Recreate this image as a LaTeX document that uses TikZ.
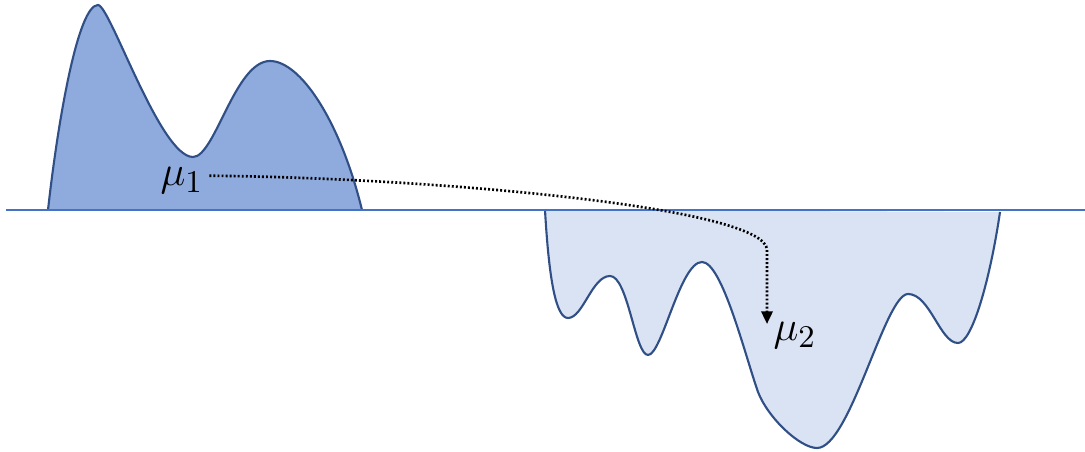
\documentclass[tikz,border=0pt]{standalone}
\usetikzlibrary{arrows.meta}
\definecolor{baseblue}{HTML}{4472C4}
\definecolor{edgeblue}{HTML}{2F4F86}
\definecolor{darkfill}{HTML}{8FAADC}
\definecolor{lightfill}{HTML}{DAE3F3}
\tikzset{
  hill/.style={draw=edgeblue, line width=0.6pt, line join=round},
  lbl/.style={font=\fontsize{12.5}{15}\selectfont, inner sep=0pt},
  flow/.style={line width=0.75pt, dash pattern=on 0.55pt off 0.6pt, -{Triangle[width=3.2pt,length=3.6pt]}}
}
\def\lefthill{(48,210) .. controls (58,120) and (78,5) .. (98,5)
  .. controls (110,5) and (160,157) .. (193,157)
  .. controls (215,157) and (235,61) .. (270,61)
  .. controls (300,61) and (340,120) .. (362,210)}
\def\righthill{(545,210) .. controls (549,280) and (556,318) .. (568,318)
  .. controls (583,318) and (592,276) .. (610,276)
  .. controls (628,276) and (635,355) .. (648,355)
  .. controls (662,355) and (680,262) .. (702,262)
  .. controls (722,262) and (745,355) .. (758,392)
  .. controls (768,418) and (800,448) .. (817,448)
  .. controls (850,448) and (885,294) .. (908,294)
  .. controls (930,294) and (940,343) .. (958,343)
  .. controls (972,343) and (990,280) .. (1000,212)}
\begin{document}
\begin{tikzpicture}[x=0.01cm,y=-0.01cm]
\useasboundingbox (0,0) rectangle (1085,452);
% left distribution
\fill[darkfill] \lefthill -- cycle;
\draw[hill] \lefthill;
% right distribution
\fill[lightfill] \righthill -- cycle;
\draw[hill] \righthill;
% baseline
\coordinate (bl) at (6,210);
\coordinate (br) at (1085,210);
\draw[baseblue, line width=0.5pt] (bl) -- (br);
% labels
\node[lbl] (mu1) at (182,181) {$\mu_1$};
\node[lbl] (mu2) at (795,336) {$\mu_2$};
\coordinate (bend) at (767,250);
\coordinate (tip) at (767,324);
\draw[flow] ([xshift=1.5pt,yshift=1.5pt]mu1.east) .. controls (440,178) and (767,208) .. (bend) -- (tip);
\end{tikzpicture}
\end{document}
